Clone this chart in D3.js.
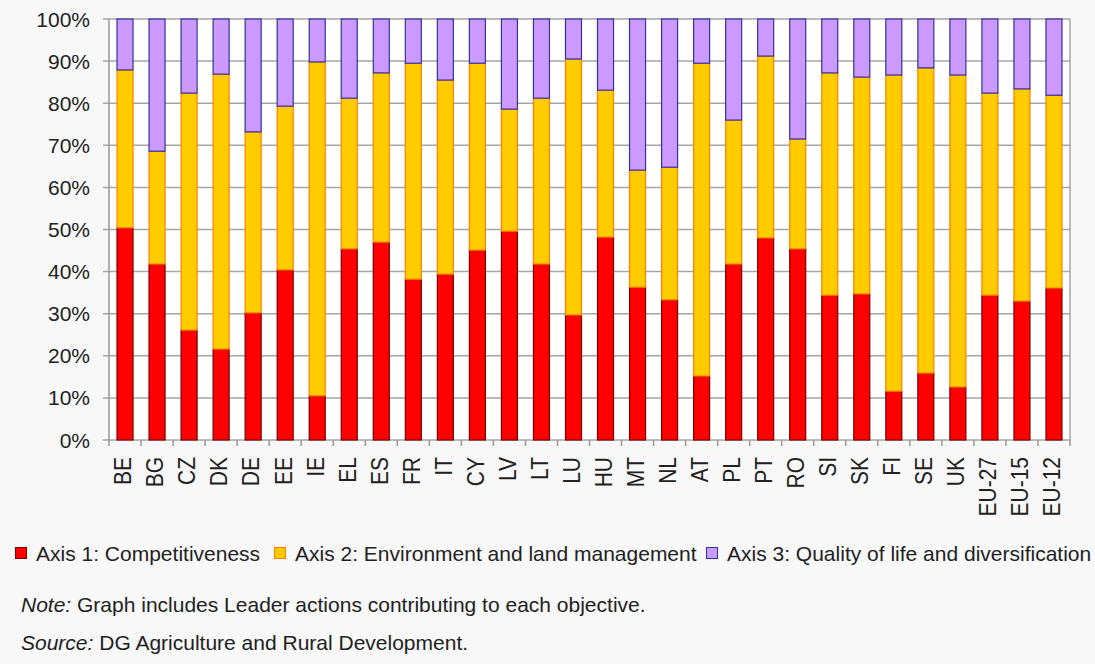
<!DOCTYPE html>
<html>
<head>
<meta charset="utf-8">
<script src="https://cdn.jsdelivr.net/npm/d3@7"></script>
<style>
  body { margin: 0; background: #f8f8f8; font-family: "Liberation Sans", Arial, sans-serif; }
  svg { display: block; }
</style>
</head>
<body>
<svg id="chart"></svg>
<script>
const countries = ["BE","BG","CZ","DK","DE","EE","IE","EL","ES","FR","IT","CY","LV","LT","LU","HU","MT","NL","AT","PL","PT","RO","SI","SK","FI","SE","UK","EU-27","EU-15","EU-12"]
// shares in %
const axis1 = [50.4,41.8,26.1,21.6,30.2,40.4,10.5,45.4,47.0,38.2,39.4,45.1,49.6,41.8,29.7,48.2,36.3,33.3,15.2,41.8,48.0,45.4,34.4,34.7,11.6,15.9,12.6,34.4,33.0,36.1]
const axis2 = [37.5,26.8,56.3,65.3,43.0,38.9,79.3,35.8,40.2,51.3,46.1,44.4,29.0,39.4,60.8,34.9,27.8,31.5,74.3,34.2,43.2,26.1,52.8,51.5,75.1,72.5,74.1,48.0,50.4,45.8]
const axis3 = axis1.map((d, i) => 100 - d - axis2[i])
const series = ["Axis 1: Competitiveness", "Axis 2: Environment and land management", "Axis 3: Quality of life and diversification"]
const fills = ["#ff0000", "#ffcc00", "#cc99ff"]
const strokes = ["#7a0000", "#ff8000", "#333399"]
const yTicks = [0,10,20,30,40,50,60,70,80,90,100]

const width = 1095, height = 664
const margin = {top: 19, right: 25, bottom: 224, left: 109}
const fontSize = 21
const svg = d3.select("#chart").attr("width", width).attr("height", height)

const x = d3.scaleBand().domain(countries).range([margin.left, width - margin.right]).paddingInner(0.5).paddingOuter(0.25)
const y = d3.scaleLinear().domain([0, 100]).range([height - margin.bottom, margin.top])

// plot background
svg.append("rect")
  .attr("x", margin.left).attr("y", margin.top)
  .attr("width", width - margin.right - margin.left)
  .attr("height", y(0) - margin.top)
  .attr("fill", "#ffffff")

// gridlines
svg.append("g")
  .selectAll("line")
  .data(yTicks)
  .join("line")
    .attr("x1", margin.left - 6).attr("x2", width - margin.right)
    .attr("y1", d => y(d)).attr("y2", d => y(d))
    .attr("stroke", "#a6a6a6")
    .attr("stroke-width", 1.5)

svg.append("g")
  .selectAll("text")
  .data(yTicks)
  .join("text")
    .attr("x", 90)
    .attr("y", d => y(d) + 7.5)
    .attr("text-anchor", "end")
    .attr("font-size", fontSize)
    .attr("fill", "#222")
    .text(d => d + "%")

const stackData = countries.map((c, i) => ({c: c, a1: axis1[i], a2: axis2[i], a3: axis3[i]}))
const stacked = d3.stack().keys(["a1", "a2", "a3"])(stackData)

svg.append("g")
  .selectAll("g")
  .data(stacked)
  .join("g")
    .attr("fill", (d, i) => fills[i])
    .attr("stroke", (d, i) => strokes[i])
    .attr("stroke-width", 1.2)
  .selectAll("rect")
  .data(d => d)
  .join("rect")
    .attr("x", d => x(d.data.c))
    .attr("y", d => y(d[1]))
    .attr("width", x.bandwidth())
    .attr("height", d => y(d[0]) - y(d[1]))

// axes frame
const step = x.step()
svg.append("line")
  .attr("x1", margin.left).attr("x2", margin.left)
  .attr("y1", margin.top).attr("y2", y(0))
  .attr("stroke", "#999").attr("stroke-width", 1.5)
svg.append("line")
  .attr("x1", width - margin.right).attr("x2", width - margin.right)
  .attr("y1", margin.top).attr("y2", y(0))
  .attr("stroke", "#a6a6a6").attr("stroke-width", 1.5)
svg.append("g")
  .selectAll("line")
  .data(d3.range(countries.length + 1))
  .join("line")
    .attr("x1", i => margin.left + i * step).attr("x2", i => margin.left + i * step)
    .attr("y1", y(0)).attr("y2", y(0) + 6)
    .attr("stroke", "#999").attr("stroke-width", 1.5)

svg.append("g")
  .selectAll("text")
  .data(countries)
  .join("text")
    .attr("transform", d => `translate(${x(d) + x.bandwidth() / 2 - 2},${y(0) + 17}) rotate(-90) scale(1,1.1)`)
    .attr("dy", "0.36em")
    .attr("text-anchor", "end")
    .attr("font-size", fontSize)
    .attr("fill", "#222")
    .text(d => d)

// legend
const legendX = [15, 274, 706]
const legend = svg.append("g")
  .selectAll("g")
  .data(series)
  .join("g")
    .attr("transform", (d, i) => `translate(${legendX[i]},553)`)
legend.append("rect")
  .attr("x", 0.5).attr("y", -5.5)
  .attr("width", 11).attr("height", 11)
  .attr("fill", (d, i) => fills[i])
  .attr("stroke", (d, i) => strokes[i])
legend.append("text")
  .attr("x", 21)
  .attr("y", 7.5)
  .attr("font-size", fontSize)
  .attr("fill", "#222")
  .text(d => d)

const notes = [["Note:", " Graph includes Leader actions contributing to each objective.", 612], ["Source:", " DG Agriculture and Rural Development.", 650]]
notes.forEach(n => {
  const t = svg.append("text").attr("x", 21).attr("y", n[2]).attr("font-size", fontSize).attr("fill", "#222")
  t.append("tspan").attr("font-style", "italic").text(n[0])
  t.append("tspan").text(n[1])
})
</script>
</body>
</html>
